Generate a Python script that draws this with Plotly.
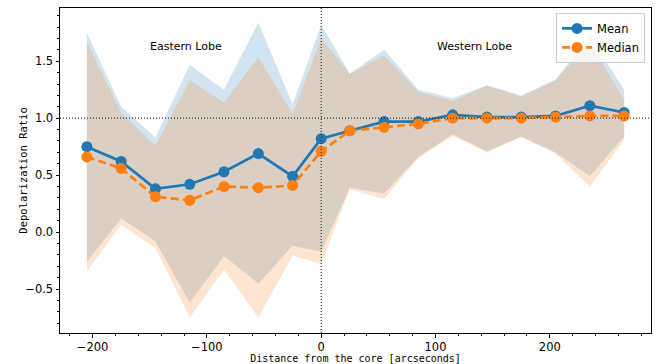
import plotly.graph_objects as go

distance = [-205, -175, -145, -115, -85, -55, -25, 0, 25, 55, 85, 115, 145, 175, 205, 235, 265]
mean_vals = [0.75, 0.62, 0.38, 0.42, 0.53, 0.69, 0.49, 0.82, 0.89, 0.97, 0.97, 1.03, 1.01, 1.01, 1.02, 1.11, 1.05]
median_vals = [0.66, 0.56, 0.31, 0.28, 0.40, 0.39, 0.41, 0.71, 0.89, 0.92, 0.95, 1.00, 1.00, 1.00, 1.01, 1.02, 1.02]
mean_upper = [1.75, 1.10, 0.83, 1.47, 1.25, 1.84, 1.12, 1.82, 1.39, 1.60, 1.25, 1.175, 1.29, 1.20, 1.34, 1.72, 1.25]
mean_lower = [-0.26, 0.12, -0.08, -0.62, -0.21, -0.45, -0.12, -0.17, 0.39, 0.34, 0.66, 0.86, 0.71, 0.84, 0.70, 0.49, 0.84]
median_upper = [1.67, 1.045, 0.76, 1.33, 1.14, 1.535, 1.04, 1.70, 1.39, 1.55, 1.23, 1.155, 1.285, 1.19, 1.33, 1.67, 1.16]
median_lower = [-0.345, 0.065, -0.14, -0.75, -0.33, -0.75, -0.205, -0.28, 0.375, 0.29, 0.65, 0.845, 0.70, 0.835, 0.69, 0.40, 0.81]

BLUE = "#1f77b4"
ORANGE = "#ff7f0e"

fig = go.Figure()

# bands
fig.add_trace(go.Scatter(x=distance, y=mean_upper, mode="lines", line=dict(width=0),
                         showlegend=False, hoverinfo="skip"))
fig.add_trace(go.Scatter(x=distance, y=mean_lower, mode="lines", line=dict(width=0),
                         fill="tonexty", fillcolor="rgba(31,119,180,0.2)",
                         showlegend=False, hoverinfo="skip"))
fig.add_trace(go.Scatter(x=distance, y=median_upper, mode="lines", line=dict(width=0),
                         showlegend=False, hoverinfo="skip"))
fig.add_trace(go.Scatter(x=distance, y=median_lower, mode="lines", line=dict(width=0),
                         fill="tonexty", fillcolor="rgba(255,127,14,0.2)",
                         showlegend=False, hoverinfo="skip"))

fig.add_trace(go.Scatter(x=distance, y=mean_vals, mode="lines+markers", name="Mean",
                         line=dict(color=BLUE, width=2.7),
                         marker=dict(color=BLUE, size=11)))
fig.add_trace(go.Scatter(x=distance, y=median_vals, mode="lines+markers", name="Median",
                         line=dict(color=ORANGE, width=2.7, dash="8px,4px"),
                         marker=dict(color=ORANGE, size=11)))

fig.add_hline(y=1.0, line=dict(color="#333333", width=1.2, dash="1px,2px"))
fig.add_vline(x=0, line=dict(color="#333333", width=1.2, dash="1px,2px"))

fig.add_annotation(x=-118, y=1.63, text="Eastern Lobe", showarrow=False,
                   font=dict(family="DejaVu Sans", size=11, color="black"))
fig.add_annotation(x=134, y=1.63, text="Western Lobe", showarrow=False,
                   font=dict(family="DejaVu Sans", size=11, color="black"))
# y-axis title placed as text
fig.add_annotation(xref="paper", yref="paper", x=-0.064, y=0.5, xanchor="center", yanchor="middle",
                   text="Depolarization Ratio", textangle=-90, showarrow=False,
                   font=dict(family="DejaVu Sans Mono", size=10.5, color="black"))

axis_common = dict(showline=True, linecolor="black", linewidth=1, mirror=True,
                   ticks="outside", ticklen=3.5, tickwidth=1, tickcolor="black",
                   showgrid=False, zeroline=False, automargin=False,
                   tickfont=dict(family="DejaVu Sans", size=11.5, color="black"))

fig.update_xaxes(range=[-228.5, 288.5], tick0=0, dtick=100,
                 minor=dict(ticks="outside", dtick=20, ticklen=2, tickcolor="black"),
                 title=dict(text="Distance from the core [arcseconds]", standoff=1,
                            font=dict(family="DejaVu Sans Mono", size=10, color="black")),
                 **axis_common)
fig.update_yaxes(range=[-0.885, 1.967], tick0=0, dtick=0.5, tickformat=".1f",
                 minor=dict(ticks="outside", dtick=0.1, ticklen=2, tickcolor="black"),
                 **axis_common)

fig.update_layout(
    width=656, height=364,
    margin=dict(l=60, r=5, t=8, b=31),
    plot_bgcolor="white", paper_bgcolor="white",
    legend=dict(x=0.99, y=0.985, xanchor="right", yanchor="top", traceorder="normal",
                bgcolor="rgba(255,255,255,0.8)", bordercolor="#cccccc", borderwidth=1,
                font=dict(family="DejaVu Sans", size=11.5, color="black"),
                tracegroupgap=0, itemwidth=30),
    showlegend=True,
)

fig.write_html("out.html")
